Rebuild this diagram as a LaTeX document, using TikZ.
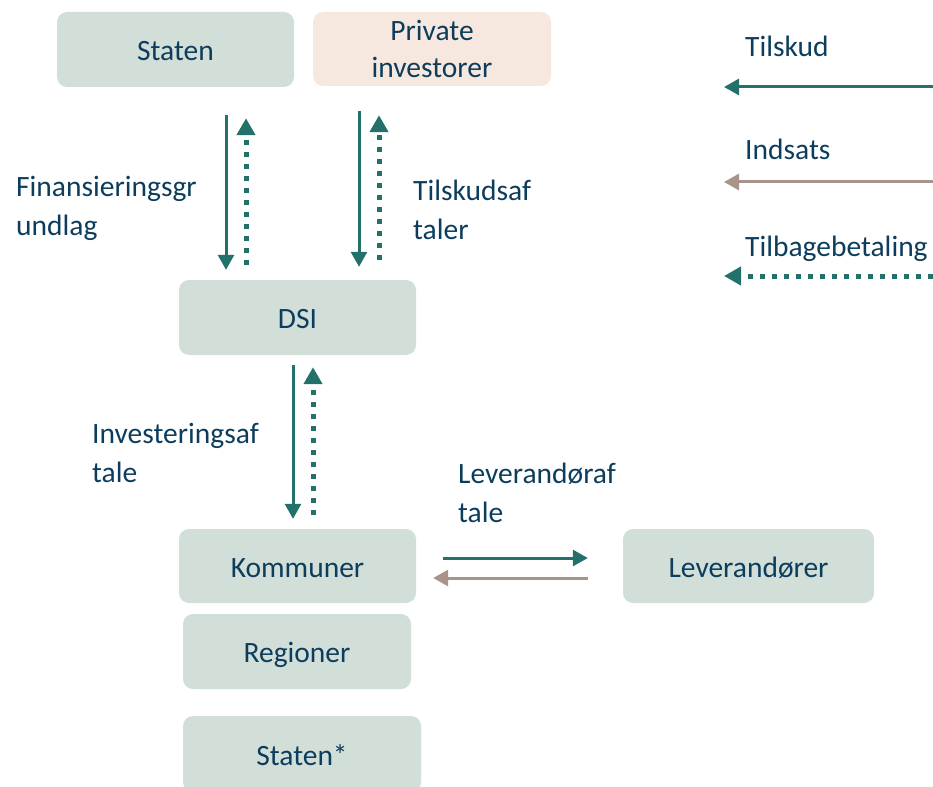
\documentclass[tikz,border=0pt]{standalone}
\usepackage{fontspec}
\setmainfont{Carlito}
\usetikzlibrary{arrows.meta,calc}
\definecolor{boxg}{HTML}{D2DFD8}
\definecolor{boxp}{HTML}{F6E8DE}
\definecolor{txt}{HTML}{0D3D5C}
\definecolor{tealc}{HTML}{24706A}
\definecolor{brownc}{HTML}{A8948A}
\begin{document}
\begin{tikzpicture}[x=1pt,y=-1pt,
  box/.style={rounded corners=10pt, fill=boxg, text=txt, align=center,
    font=\fontsize{29.5}{35}\selectfont, inner sep=0pt},
  sbox/.style={box, text height=24pt, text depth=2pt},
  lbl/.style={text=txt, align=left, anchor=base west, inner sep=0pt,
    font=\fontsize{29.5}{35}\selectfont},
  tarrow/.style={draw=tealc, line width=3pt, -{Triangle[length=15pt,width=16pt]}},
  barrow/.style={draw=brownc, line width=3pt, -{Triangle[length=15pt,width=16pt]}},
  darrow/.style={draw=tealc, line width=5pt, dash pattern=on 5pt off 7pt,
    -{Triangle[length=17pt,width=18pt]}}]
\useasboundingbox (0,0) rectangle (933,786);
\begin{scope}
\clip (0,0) rectangle (933,786);
\node[sbox, minimum width=237pt, minimum height=75pt] (staten) at (175.5,49.5) {Staten};
\node[box, fill=boxp, minimum width=238pt, minimum height=74pt] (priv) at (432,49) {Private\\[2pt]investorer};
\node[sbox, minimum width=237pt, minimum height=75pt] (dsi) at (297.5,317.5) {DSI};
\node[sbox, minimum width=237pt, minimum height=74pt] (komm) at (297.5,566) {Kommuner};
\node[sbox, minimum width=228pt, minimum height=75pt] (reg) at (297,651.5) {Regioner};
\node[sbox, minimum width=238pt, minimum height=76pt] (stat2) at (302,754) {Staten*};
\node[sbox, minimum width=251pt, minimum height=74pt] (lev) at (748.5,566) {Leverandører};
\end{scope}

\coordinate (c1) at (226,0);
\coordinate (c2) at (246,0);
\coordinate (c3) at (359,0);
\coordinate (c4) at (379,0);
\coordinate (c5) at (293,0);
\coordinate (c6) at (313,0);
\coordinate (h1) at (0,558);
\coordinate (h2) at (0,578);

\draw[tarrow] ($(staten.south -| c1)+(0,28)$) -- ($(dsi.north -| c1)+(0,-10)$);
\draw[darrow] ($(dsi.north -| c2)+(0,-15)$) -- ($(staten.south -| c2)+(0,31)$);
\draw[tarrow] ($(priv.south -| c3)+(0,25)$) -- ($(dsi.north -| c3)+(0,-13)$);
\draw[darrow] ($(dsi.north -| c4)+(0,-20)$) -- ($(priv.south -| c4)+(0,29)$);
\draw[tarrow] ($(dsi.south -| c5)+(0,10)$) -- ($(komm.north -| c5)+(0,-10)$);
\draw[darrow] ($(komm.north -| c6)+(0,-14)$) -- ($(dsi.south -| c6)+(0,12)$);
\draw[tarrow] ($(komm.east |- h1)+(27,0)$) -- ($(lev.west |- h1)+(-35,0)$);
\draw[barrow] ($(lev.west |- h2)+(-35,0)$) -- ($(komm.east |- h2)+(17,0)$);

\node[lbl] (l1) at (16,235) {Finansieringsgr\\[4pt]undlag};
\node[lbl] (l2) at (413,239) {Tilskudsaf\\[4pt]taler};
\node[lbl] (l3) at (92,482) {Investeringsaf\\[4pt]tale};
\node[lbl] (l4) at (458,522) {Leverandøraf\\[4pt]tale};

\node[lbl] (t1) at (745,57) {Tilskud};
\node[lbl] (t2) at (745,160) {Indsats};
\node[lbl] (t3) at (745,256) {Tilbagebetaling};
\coordinate (e1) at (933,87);
\coordinate (e2) at (933,182);
\coordinate (e3) at (933,276);
\draw[tarrow] (e1) -- ($(t1.west |- e1)+(-21,0)$);
\draw[barrow] (e2) -- ($(t2.west |- e2)+(-21,0)$);
\draw[darrow] (e3) -- ($(t3.west |- e3)+(-21,0)$);
\end{tikzpicture}
\end{document}
